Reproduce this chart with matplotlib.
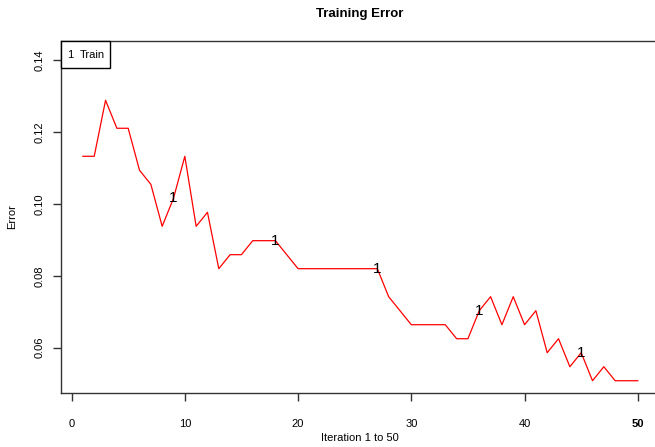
import matplotlib
matplotlib.use("Agg")
import matplotlib.pyplot as plt
from matplotlib.patches import Rectangle

plt.rcParams['font.family'] = ['Liberation Sans', 'DejaVu Sans']

iterations = list(range(1, 51))
train_error = [
    0.1133, 0.1133, 0.1289, 0.1211, 0.1211, 0.1094, 0.1055, 0.0938, 0.1016, 0.1133,
    0.0938, 0.0977, 0.0820, 0.0859, 0.0859, 0.0898, 0.0898, 0.0898, 0.0859, 0.0820,
    0.0820, 0.0820, 0.0820, 0.0820, 0.0820, 0.0820, 0.0820, 0.0742, 0.0703, 0.0664,
    0.0664, 0.0664, 0.0664, 0.0625, 0.0625, 0.0703, 0.0742, 0.0664, 0.0742, 0.0664,
    0.0703, 0.0586, 0.0625, 0.0547, 0.0586, 0.0508, 0.0547, 0.0508, 0.0508, 0.0508,
]
marker_iters = [9, 18, 27, 36, 45]
xticks = [0, 10, 20, 30, 40, 50]
yticks = [0.06, 0.08, 0.10, 0.12, 0.14]
ytick_labels = ["0.06", "0.08", "0.10", "0.12", "0.14"]
series_name = "Train"

fig = plt.figure(figsize=(6.55, 4.47), dpi=100)
ax = fig.add_axes([60.7 / 655, 1 - 393.3 / 447, (660 - 60.7) / 655, (393.3 - 41) / 447])
ax.set_xlim(-0.96, 51.96)
ax.set_ylim(0.0473, 0.1454)

ax.plot(iterations, train_error, color='red', lw=0.9)
for m in marker_iters:
    ax.text(m, train_error[m - 1], "1", ha='center', va='center', fontsize=11, color='black')

for s in ax.spines.values():
    s.set_linewidth(1.0)
    s.set_color('#333333')
ax.spines['right'].set_visible(False)

ax.set_xticks(xticks)
ax.set_xticklabels([str(t) for t in xticks])
for lbl in ax.get_xticklabels():
    if lbl.get_text() == "50":
        lbl.set_fontweight('bold')
ax.set_yticks(yticks)
ax.set_yticklabels(ytick_labels, rotation=90, va='center')
ax.tick_params(axis='x', direction='out', length=5.5, width=1, labelsize=8, pad=13, color='#333333')
ax.tick_params(axis='y', direction='out', length=5.5, width=1, labelsize=8, pad=6, color='#333333')

fig.text(360 / 655, 1 - 14 / 447, "Training Error", ha='center', va='center', fontsize=9.5, fontweight='bold')
fig.text(360 / 655, 1 - 438 / 447, "Iteration 1 to 50", ha='center', va='center', fontsize=8)
fig.text(12 / 655, 1 - 217 / 447, "Error", ha='center', va='center', rotation=90, fontsize=8)

# legend box (top-left)
lx0, lx1 = 60.7 / 655, 110 / 655
ly0, ly1 = 1 - 68 / 447, 1 - 41 / 447
fig.patches.append(Rectangle((lx0, ly0), lx1 - lx0, ly1 - ly0, transform=fig.transFigure,
                             facecolor='white', edgecolor='black', lw=1.0, zorder=5))
fig.text(70 / 655, 1 - 54.5 / 447, "1", ha='center', va='center', fontsize=8, zorder=6)
fig.text(80 / 655, 1 - 54.5 / 447, series_name, ha='left', va='center', fontsize=8, zorder=6)

fig.savefig("out.png", dpi=100)
